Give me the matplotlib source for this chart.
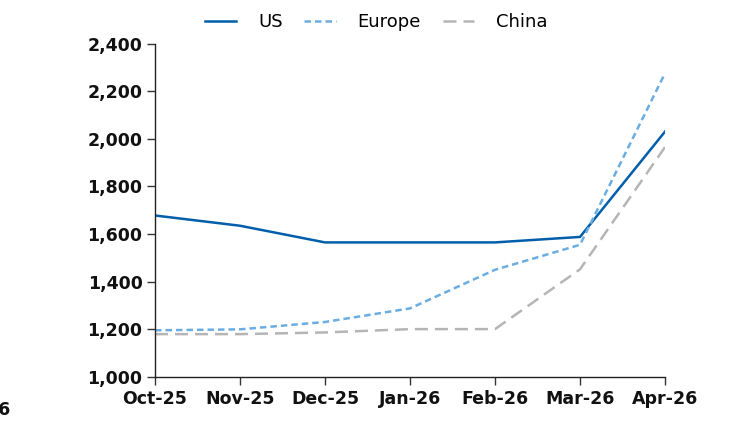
import matplotlib
matplotlib.use("Agg")
import matplotlib.pyplot as plt
from matplotlib.ticker import FuncFormatter

months = ["Oct-25", "Nov-25", "Dec-25", "Jan-26", "Feb-26", "Mar-26", "Apr-26"]
us = [1678, 1635, 1565, 1565, 1565, 1588, 2030]
europe = [1196, 1200, 1231, 1288, 1450, 1555, 2275]
china = [1180, 1180, 1187, 1201, 1201, 1452, 1965]
yticks = [1000, 1200, 1400, 1600, 1800, 2000, 2200, 2400]

plt.rcParams['font.family'] = ['DejaVu Sans']

fig = plt.figure(figsize=(7.5, 4.21), dpi=100)
ax = fig.add_axes([155/750, 1-377/421, 510/750, (377-43.5)/421])

x = list(range(len(months)))
lw = 1.8
ax.plot(x, us, color="#005EAA", lw=lw, label="US", solid_joinstyle="miter")
ax.plot(x, europe, color="#6AADE2", lw=lw, ls=(0, (2.6, 1.6)), label="Europe")
ax.plot(x, china, color="#B5B5B5", lw=lw, ls=(0, (5.2, 2.8)), label="China")

ax.set_xlim(0, len(months)-1)
ax.set_ylim(1000, 2400)
ax.set_xticks(x)
ax.set_xticklabels(months)
ax.set_yticks(yticks)
ax.yaxis.set_major_formatter(FuncFormatter(lambda v, p: f"{int(v):,}"))
for s in ["top", "right"]:
    ax.spines[s].set_visible(False)
for s in ["left", "bottom"]:
    ax.spines[s].set_linewidth(1.0)
    ax.spines[s].set_color("#222222")
ax.tick_params(axis="both", direction="out", length=6, width=1.0, color="#333333",
               labelsize=12.5, pad=3)
for lab in ax.get_xticklabels() + ax.get_yticklabels():
    lab.set_fontweight("bold")
    lab.set_color("#111111")

fig.legend(loc="center", bbox_to_anchor=(376/750, 1-22/421), ncol=3, frameon=False,
           fontsize=13, handlelength=1.75, handletextpad=1.2, columnspacing=1.2)

fig.text(11/750, 1-410/421, "Apr-26", ha="right", va="center", fontsize=12.5,
         fontweight="bold", color="#111111")

fig.savefig("out.png", dpi=100)
